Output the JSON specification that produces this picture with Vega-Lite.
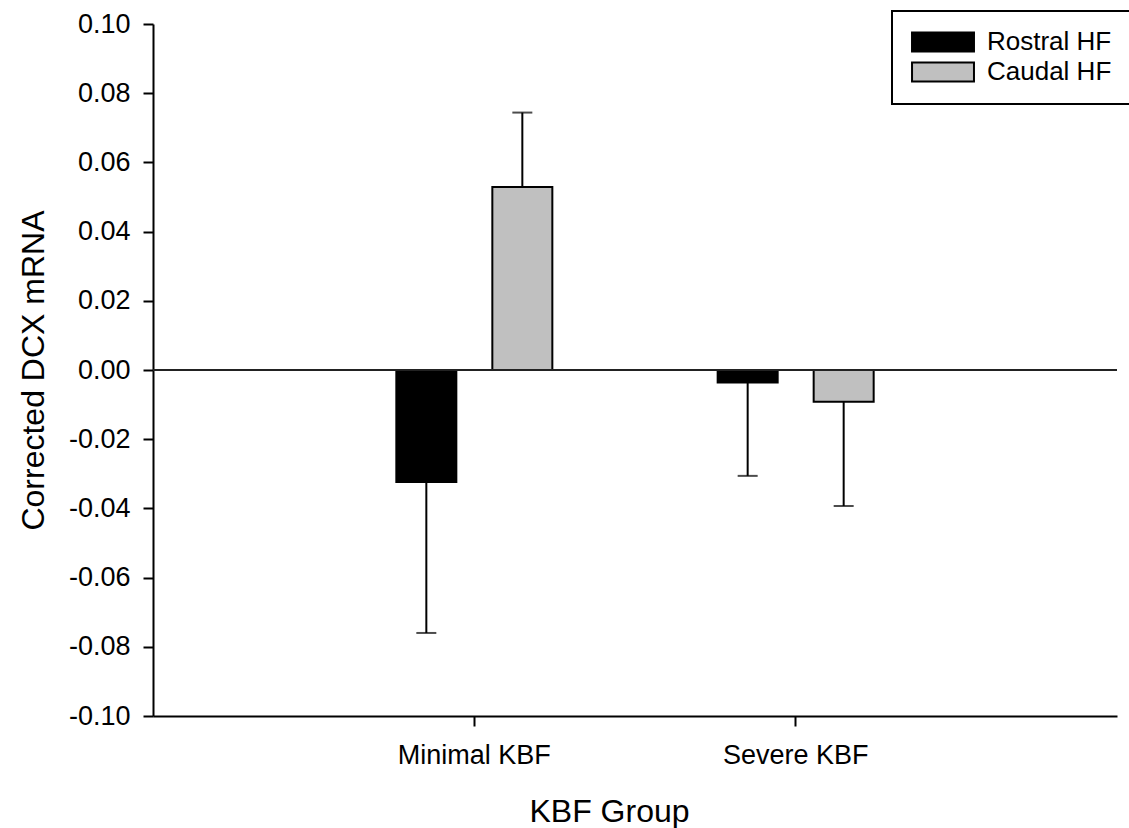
{
  "$schema": "https://vega.github.io/schema/vega-lite/v6.json",
  "width": 964,
  "height": 692,
  "autosize": {"type": "none"},
  "padding": {"left": 153, "top": 24, "right": 12, "bottom": 112},
  "background": "white",
  "config": {
    "font": "Liberation Sans",
    "view": {"stroke": null},
    "axis": {
      "domainColor": "black",
      "domainWidth": 2,
      "tickColor": "black",
      "tickWidth": 2,
      "tickSize": 10,
      "labelColor": "black",
      "labelFontSize": 27,
      "titleColor": "black",
      "titleFontSize": 32,
      "titleFontWeight": "normal",
      "grid": false
    },
    "legend": {"strokeWidth": 2}
  },
  "data": {
    "values": [
      {"group": "Minimal KBF", "region": "Rostral HF", "mean": -0.0324, "end": -0.076},
      {"group": "Minimal KBF", "region": "Caudal HF", "mean": 0.0529, "end": 0.0744},
      {"group": "Severe KBF", "region": "Rostral HF", "mean": -0.0036, "end": -0.0306},
      {"group": "Severe KBF", "region": "Caudal HF", "mean": -0.0092, "end": -0.0393}
    ]
  },
  "encoding": {
    "x": {
      "field": "group",
      "type": "nominal",
      "sort": ["Minimal KBF", "Severe KBF"],
      "scale": {"paddingInner": 0, "paddingOuter": 0.5},
      "axis": {"title": "KBF Group", "labelAngle": 0, "labelPadding": 16, "titlePadding": 28, "titleX": 456}
    },
    "xOffset": {
      "field": "region",
      "type": "nominal",
      "sort": ["Rostral HF", "Caudal HF"],
      "scale": {"paddingInner": 0.375, "paddingOuter": 0.861}
    }
  },
  "layer": [
    {
      "mark": {"type": "bar", "stroke": "black", "strokeWidth": 2},
      "encoding": {
        "y": {
          "field": "mean",
          "type": "quantitative",
          "scale": {"domain": [-0.1, 0.1], "nice": false, "zero": true},
          "axis": {
            "title": "Corrected DCX mRNA",
            "values": [-0.1, -0.08, -0.06, -0.04, -0.02, 0, 0.02, 0.04, 0.06, 0.08, 0.1],
            "labelExpr": "replace(format(datum.value, '.2f'), '\u2212', '-')",
            "labelPadding": 13,
            "titlePadding": 18
          }
        },
        "fill": {
          "field": "region",
          "type": "nominal",
          "scale": {"domain": ["Rostral HF", "Caudal HF"], "range": ["black", "#c0c0c0"]},
          "legend": {
            "title": null,
            "orient": "none",
            "legendX": 739,
            "legendY": -13,
            "padding": 18,
            "strokeColor": "black",
            "fillColor": "white",
            "symbolType": "M-3.26,-1H3.26V1H-3.26Z",
            "symbolSize": 361,
            "symbolStrokeColor": "black",
            "symbolStrokeWidth": 2,
            "symbolOffset": 20,
            "labelOffset": 31,
            "labelFontSize": 26,
            "labelColor": "black",
            "rowPadding": 2
          }
        }
      }
    },
    {
      "mark": {"type": "rule", "color": "black", "strokeWidth": 2},
      "encoding": {
        "y": {"field": "mean", "type": "quantitative"},
        "y2": {"field": "end"}
      }
    },
    {
      "mark": {"type": "tick", "color": "black", "thickness": 2, "size": 20, "orient": "horizontal"},
      "encoding": {
        "y": {"field": "end", "type": "quantitative"}
      }
    },
    {
      "mark": {"type": "rule", "color": "#222222", "strokeWidth": 2},
      "encoding": {"y": {"datum": 0}, "x": null, "xOffset": null}
    }
  ]
}
